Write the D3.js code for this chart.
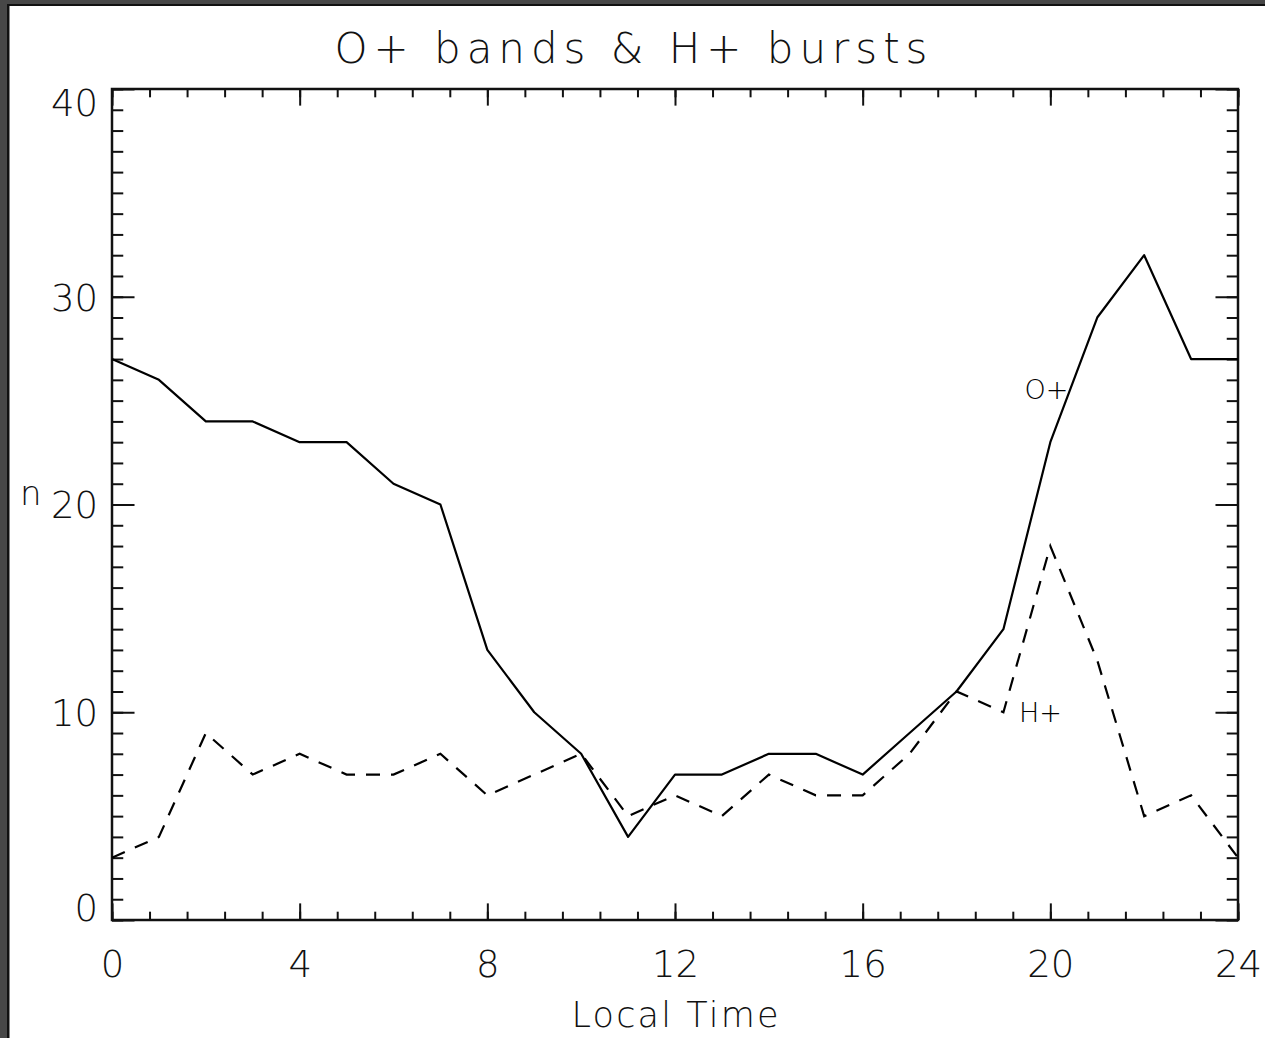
<!DOCTYPE html>
<meta charset="utf-8">
<head>
	<title>O+ bands & H+ bursts</title>
</head>
<style>
	body { margin: 0; background: #fff; }
	svg text { font-family: "DejaVu Sans", sans-serif; fill: #111; }
</style>
<body>
	<svg width="1265" height="1038"></svg>

	<script src="https://cdnjs.cloudflare.com/ajax/libs/d3/7.8.5/d3.min.js"></script>
	<script>

		// data, one value per local-time hour
		var localTime = [0, 1, 2, 3, 4, 5, 6, 7, 8, 9, 10, 11, 12, 13, 14, 15, 16, 17, 18, 19, 20, 21, 22, 23, 24];
		var oPlus = [27, 26, 24, 24, 23, 23, 21, 20, 13, 10, 8, 4, 7, 7, 8, 8, 7, 9, 11, 14, 23, 29, 32, 27, 27];
		var hPlus = [3, 4, 9, 7, 8, 7, 7, 8, 6, 7, 8, 5, 6, 5, 7, 6, 6, 8, 11, 10, 18, 12.5, 5, 6, 3];
		var xTicks = [0, 4, 8, 12, 16, 20, 24];
		var yTicks = [0, 10, 20, 30, 40];

		var svg = d3.select("svg"),
			margin = {top: 89, right: 27, bottom: 118, left: 112},
			width = svg.attr("width") - margin.left - margin.right,
			height = svg.attr("height") - margin.top - margin.bottom;

		// dark window frame on the left and top
		svg.append("rect").attr("x", 0).attr("y", 0).attr("width", 1265).attr("height", 4).attr("fill", "#474747");
		svg.append("rect").attr("x", 0).attr("y", 0).attr("width", 7).attr("height", 1038).attr("fill", "#474747");
		svg.append("rect").attr("x", 7).attr("y", 4).attr("width", 1258).attr("height", 2).attr("fill", "#111");
		svg.append("rect").attr("x", 7).attr("y", 4).attr("width", 2.5).attr("height", 1034).attr("fill", "#111");

		var g = svg.append("g")
			.attr("transform", "translate(" + margin.left + "," + margin.top + ")");

		var x = d3.scaleLinear().domain([0, 24]).range([0, width]);
		var y = d3.scaleLinear().domain([0, 40]).range([height, 0]);

		var xMajor = 0.02 * height, yMajor = 0.02 * width;
		var xMinorVals = d3.range(0, 24.01, 0.8);
		var yMinorVals = d3.range(0, 40.01, 1);

		function plain(sel) {
			sel.select(".domain").remove();
			sel.selectAll("line").attr("stroke", "#111").attr("stroke-width", 2);
		}

		// bottom axis with labels
		g.append("g")
			.attr("transform", "translate(0," + height + ")")
			.call(d3.axisBottom(x).tickValues(xTicks).tickSize(-xMajor).tickPadding(0).tickFormat(d3.format("d")))
			.call(plain)
			.call(function(a) {
				a.selectAll("text").attr("y", 57).attr("dy", 0).attr("font-size", 37)
					.style("font-family", "DejaVu Sans, sans-serif").attr("fill", "#111")
					.attr("font-weight", 300);
			});
		g.append("g")
			.attr("transform", "translate(0," + height + ")")
			.call(d3.axisBottom(x).tickValues(xMinorVals).tickSize(-xMajor / 2).tickFormat(""))
			.call(plain);
		// top axis, ticks only
		g.append("g")
			.call(d3.axisTop(x).tickValues(xTicks).tickSize(-xMajor).tickFormat(""))
			.call(plain);
		g.append("g")
			.call(d3.axisTop(x).tickValues(xMinorVals).tickSize(-xMajor / 2).tickFormat(""))
			.call(plain);

		// left axis with labels
		g.append("g")
			.call(d3.axisLeft(y).tickValues(yTicks).tickSize(-yMajor).tickPadding(14).tickFormat(d3.format("d")))
			.call(plain)
			.call(function(a) {
				a.selectAll("text").attr("font-size", 37).attr("x", -14)
					.style("font-family", "DejaVu Sans, sans-serif").attr("fill", "#111")
					.attr("font-weight", 300)
					.attr("dy", function(d) { return d === 40 ? "0.72em" : (d === 0 ? "0" : "0.36em"); });
			});
		g.append("g")
			.call(d3.axisLeft(y).tickValues(yMinorVals).tickSize(-yMajor / 2).tickFormat(""))
			.call(plain);
		// right axis, ticks only
		g.append("g")
			.attr("transform", "translate(" + width + ",0)")
			.call(d3.axisRight(y).tickValues(yTicks).tickSize(-yMajor).tickFormat(""))
			.call(plain);
		g.append("g")
			.attr("transform", "translate(" + width + ",0)")
			.call(d3.axisRight(y).tickValues(yMinorVals).tickSize(-yMajor / 2).tickFormat(""))
			.call(plain);

		// plot box
		g.append("rect")
			.attr("width", width).attr("height", height)
			.attr("fill", "none").attr("stroke", "#111").attr("stroke-width", 2.5);

		var line = d3.line()
			.x(function(d, i) { return x(localTime[i]); })
			.y(function(d) { return y(d); });

		g.append("path")
			.datum(oPlus)
			.attr("d", line)
			.attr("fill", "none").attr("stroke", "#000").attr("stroke-width", 2.2)
			.attr("stroke-linejoin", "round");

		g.append("path")
			.datum(hPlus)
			.attr("d", line)
			.attr("fill", "none").attr("stroke", "#000").attr("stroke-width", 2.2)
			.attr("stroke-dasharray", "14,11");

		// series labels
		g.append("text").attr("x", x(19.45)).attr("y", y(25.1)).attr("font-size", 27).attr("font-weight", 300).style("fill", "#000").text("O+");
		g.append("text").attr("x", x(19.33)).attr("y", y(9.55)).attr("font-size", 27).attr("font-weight", 300).style("fill", "#000").text("H+");

		// titles
		svg.append("text")
			.attr("x", 631).attr("y", 63)
			.attr("text-anchor", "middle")
			.attr("font-size", 42).attr("font-weight", 300)
			.attr("textLength", 593).attr("lengthAdjust", "spacing")
			.text("O+ bands & H+ bursts");

		svg.append("text")
			.attr("x", margin.left + width / 2).attr("y", 1027)
			.attr("text-anchor", "middle")
			.attr("font-size", 35).attr("font-weight", 300)
			.attr("textLength", 207).attr("lengthAdjust", "spacing")
			.text("Local Time");

		svg.append("text")
			.attr("x", 20).attr("y", 505)
			.attr("font-size", 34).attr("font-weight", 300)
			.text("n");

	</script>
</body>
</html>
